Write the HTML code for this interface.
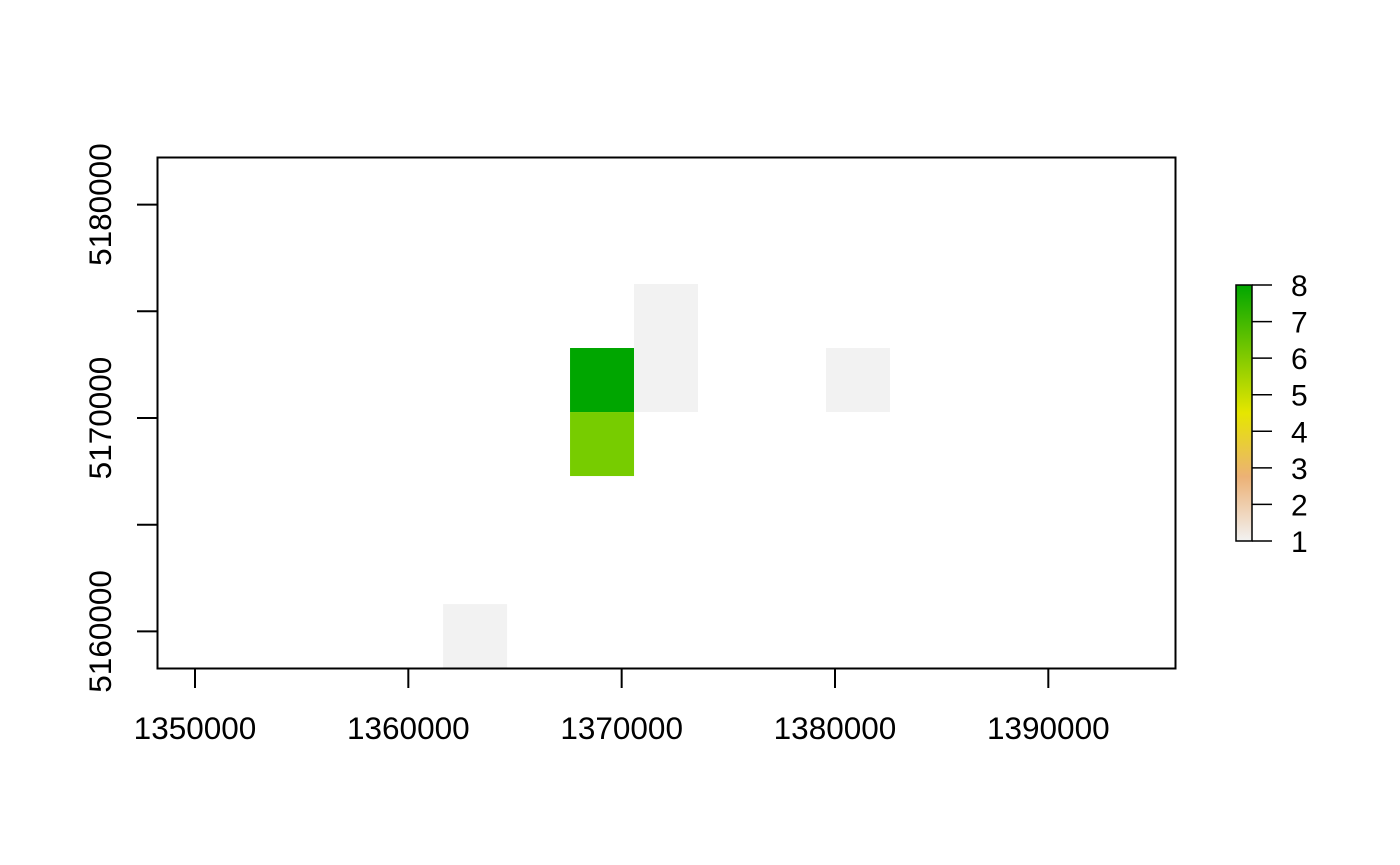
<!DOCTYPE html>
<html><head><meta charset="utf-8"><style>body{margin:0;background:#fff}svg{display:block;font-family:"Liberation Sans",sans-serif}</style></head>
<body>
<svg id="c" width="1400" height="865">
<defs><linearGradient id="g" x1="0" y1="1" x2="0" y2="0">
<stop offset="0" stop-color="#F2F2F2"/><stop offset="0.25" stop-color="#ECB176"/><stop offset="0.5" stop-color="#E6E600"/><stop offset="1" stop-color="#00A600"/></linearGradient></defs>
</svg>
<script>
const xTicks=[1350000,1360000,1370000,1380000,1390000];
const yTicks=[5160000,5165000,5170000,5175000,5180000];
const yLabels=[5160000,5170000,5180000];
const cellX=[1367580,1367580,1370580,1370580,1379580,1361630];
const cellY=[5170280,5167280,5170280,5173280,5170280,5158280];
const cellV=[8,6,1,1,1,1];
const legendTicks=[1,2,3,4,5,6,7,8];
const cellSize=3000;
const ns="http://www.w3.org/2000/svg",svg=document.getElementById('c');
const X=v=>195+(v-1350000)*0.021333, Y=v=>418-(v-5170000)*0.02134;
function mk(t,a,p){const e=document.createElementNS(ns,t);for(const k in a)e.setAttribute(k,a[k]);(p||svg).appendChild(e);return e;}
function col(v){const f=(v-1)/7;const stops=[[0,[242,242,242]],[0.25,[236,177,118]],[0.5,[230,230,0]],[1,[0,166,0]]];
for(let i=1;i<stops.length;i++){if(f<=stops[i][0]){const a=stops[i-1],b=stops[i],t=(f-a[0])/(b[0]-a[0]);return 'rgb('+a[1].map((c,j)=>Math.round(c+(b[1][j]-c)*t)).join(',')+')';}}return 'rgb(0,166,0)';}
cellX.forEach((cx,i)=>{const r=mk('rect',{x:X(cx),y:Y(cellY[i]+cellSize),width:X(cx+cellSize)-X(cx),height:Y(cellY[i])-Y(cellY[i]+cellSize),fill:cellV[i]==6?'#77CC00':col(cellV[i])});

});
const box=mk('rect',{x:157.5,y:157.5,width:1018,height:511,fill:'none',stroke:'#000','stroke-width':2});


xTicks.forEach(v=>{mk('line',{x1:X(v),x2:X(v),y1:668,y2:688,stroke:'#000','stroke-width':2});
const t=mk('text',{x:X(v),y:739,'font-size':31.5,'text-anchor':'middle'});t.textContent=v;

});
yTicks.forEach(v=>mk('line',{x1:137,x2:157,y1:Y(v),y2:Y(v),stroke:'#000','stroke-width':2}));
yLabels.forEach(v=>{const t=mk('text',{x:0,y:0,'font-size':31.5,'text-anchor':'middle',transform:`translate(111,${Y(v)}) rotate(-90)`});t.textContent=v;

});
const lg=mk('rect',{x:1236,y:285,width:16,height:256,fill:'url(#g)',stroke:'#000','stroke-width':1.5});


legendTicks.forEach(v=>{const y=541-(v-1)*256/7;mk('line',{x1:1252,x2:1272,y1:y,y2:y,stroke:'#000','stroke-width':1.5});
const t=mk('text',{x:1291,y:y+11,'font-size':30});t.textContent=v;

});
</script>
</body></html>
